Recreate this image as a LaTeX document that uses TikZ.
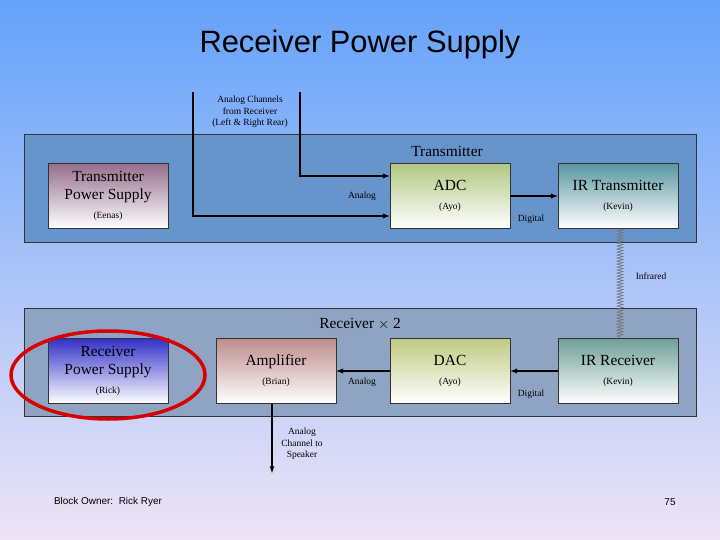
\documentclass[tikz,border=0pt]{standalone}
\usepackage{fontspec}
\setmainfont{Liberation Serif}
\newfontfamily\sansf{Liberation Sans}
\usetikzlibrary{decorations.pathmorphing}
\definecolor{bgtop}{RGB}{100,162,250}
\definecolor{bgbot}{RGB}{238,228,246}
\definecolor{txfill}{RGB}{104,148,204}
\definecolor{rxfill}{RGB}{142,164,194}
\definecolor{tpscol}{RGB}{150,110,140}
\definecolor{adccol}{RGB}{178,200,130}
\definecolor{irtcol}{RGB}{90,150,160}
\definecolor{rpscol}{RGB}{50,50,200}
\definecolor{ampcol}{RGB}{190,140,140}
\definecolor{daccol}{RGB}{192,202,130}
\definecolor{irrcol}{RGB}{110,160,150}
\tikzstyle{block}=[draw=black!80, line width=0.7pt, minimum width=120bp, minimum height=65bp, align=center, inner sep=0pt, font=\fontsize{15.5}{18}\selectfont]
\tikzstyle{group}=[draw=black!80, line width=0.7pt]
\tikzstyle{edge}=[draw, -latex, line width=1.3pt]
\tikzstyle{small}=[font=\fontsize{9.5}{11.5}\selectfont, align=center, inner sep=1pt]
\newcommand{\who}{\fontsize{9.5}{11}\selectfont}
\begin{document}
\begin{tikzpicture}[x=1bp, y=-1bp]
	\shade[top color=bgtop, bottom color=bgbot] (0,0) rectangle (720,540);
	\useasboundingbox (0,0) rectangle (720,540);
	\node[font=\sansf\fontsize{31}{36}\selectfont] (title) at (360,45) {Receiver Power Supply};
	% transmitter
	\node[group, fill=txfill, minimum width=672bp, minimum height=108bp, inner sep=0pt] (tx) at (360,188) {};
	\node[font=\fontsize{15.5}{18}\selectfont] (txtitle) at (447,151) {Transmitter};
	\node[block, top color=tpscol, bottom color=white] (TPS) at (108,196) {Transmitter\\Power Supply\\[1pt]\who (Eenas)};
	\node[block, top color=adccol, bottom color=white] (ADC) at (450,196) {ADC\\[1pt]\who (Ayo)};
	\node[block, top color=irtcol, bottom color=white] (IRT) at (618,196) {IR Transmitter\\[1pt]\who (Kevin)};
	\coordinate (inL) at (193,92);
	\coordinate (inR) at (300,92);
	\node[small] (chlabel) at (250,112) {Analog Channels\\from Receiver\\(Left \& Right Rear)};
	\path[edge] (inL) |- ([yshift=-20bp]ADC.west);
	\path[edge] (inR) |- ([yshift=20bp]ADC.west);
	\node[small] (txanalog) at (362,196) {Analog};
	\path[edge] (ADC) -- (IRT);
	\node[small] (txdigital) at (531,219) {Digital};
	% receiver
	\node[group, fill=rxfill, minimum width=672bp, minimum height=108bp, inner sep=0pt] (rx) at (360,362) {};
	\node[font=\fontsize{15.5}{18}\selectfont] (rxtitle) at (360,324) {Receiver $\times$ 2};
	\node[block, top color=rpscol, bottom color=white] (RPS) at (108,371) {Receiver\\Power Supply\\[1pt]\who (Rick)};
	\node[block, top color=ampcol, bottom color=white] (AMP) at (276,371) {Amplifier\\[1pt]\who (Brian)};
	\node[block, top color=daccol, bottom color=white] (DAC) at (450,371) {DAC\\[1pt]\who (Ayo)};
	\node[block, top color=irrcol, bottom color=white] (IRR) at (618,371) {IR Receiver\\[1pt]\who (Kevin)};
	\path[edge] (IRR) -- (DAC);
	\path[edge] (DAC) -- (AMP);
	\node[small] (rxanalog) at (362,382) {Analog};
	\node[small] (rxdigital) at (531,394) {Digital};
	\coordinate (spk) at (272,473);
	\path[edge] (AMP.south -| spk) -- (spk);
	\node[small] (spklabel) at (302,444) {Analog\\Channel to\\Speaker};
	% infrared link
	\draw[black!55, line width=0.6pt, decorate, decoration={zigzag, amplitude=3bp, segment length=3bp}] (IRT.south -| 620,0) -- (620,338);
	\node[small] (irlabel) at (651,276) {Infrared};
	% highlight
	\draw[red!85!black, line width=3.5bp] (108,375) ellipse (97bp and 44bp);
	\node[font=\sansf\fontsize{10}{12}\selectfont] (owner) at (108,502) {Block Owner:\ \ Rick Ryer};
	\node[font=\sansf\fontsize{10}{12}\selectfont] (page) at (670,502) {75};
\end{tikzpicture}
\end{document}
